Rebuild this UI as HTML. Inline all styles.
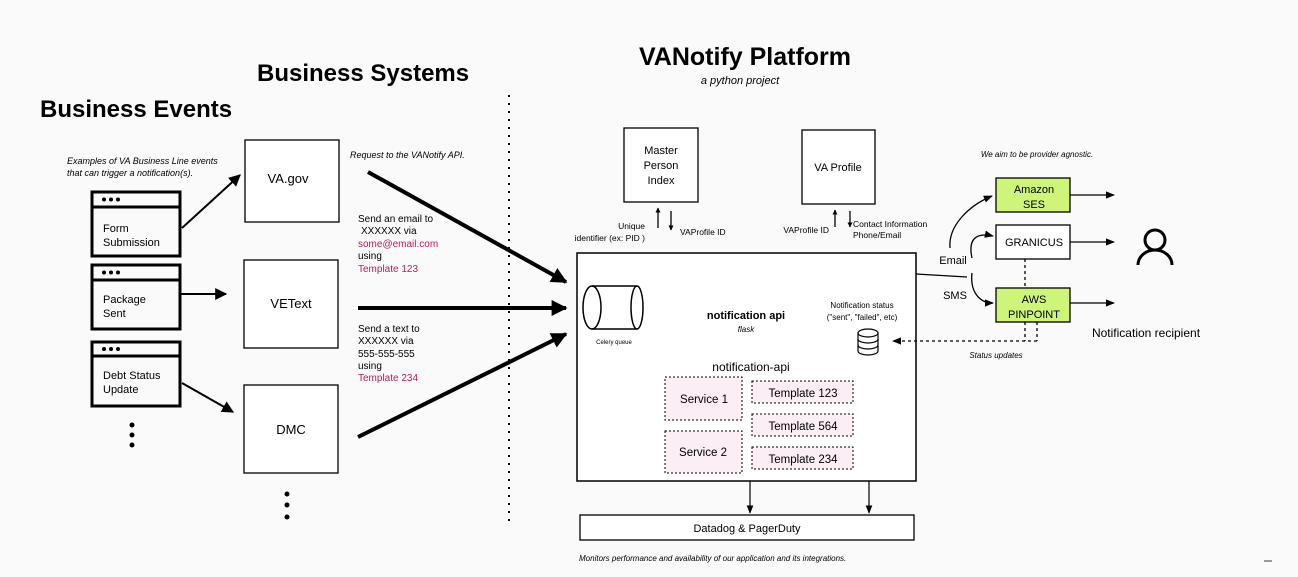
<!DOCTYPE html>
<html><head><meta charset="utf-8"><style>
html,body{margin:0;padding:0;background:#fafafa;}
svg{display:block;font-family:"Liberation Sans",sans-serif;}
</style></head><body>
<svg width="1298" height="577" viewBox="0 0 1298 577" xmlns="http://www.w3.org/2000/svg">
<defs>
<marker id="a" viewBox="0 0 10 10" refX="9" refY="5" markerWidth="6" markerHeight="6" orient="auto"><path d="M0,0L10,5L0,10z" fill="#000"/></marker>
<marker id="b" viewBox="0 0 10 10" refX="9" refY="5" markerWidth="4" markerHeight="4" orient="auto"><path d="M0,0L10,5L0,10z" fill="#000"/></marker>
<marker id="c" viewBox="0 0 10 10" refX="9" refY="5" markerWidth="7" markerHeight="7" orient="auto"><path d="M0,1L10,5L0,9z" fill="#000"/></marker>
</defs>
<rect width="1298" height="577" fill="#fafafa"/>
<text x="40" y="117" font-size="24" font-weight="bold">Business Events</text>
<text x="257" y="81" font-size="24" font-weight="bold">Business Systems</text>
<text x="745" y="65" font-size="25" font-weight="bold" text-anchor="middle">VANotify Platform</text>
<text x="740" y="84" font-size="11" font-style="italic" text-anchor="middle">a python project</text>
<line x1="509" y1="95" x2="509" y2="522" stroke="#000" stroke-width="2" stroke-dasharray="2,6"/>
<text font-size="9" font-style="italic"><tspan x="67" y="164">Examples of VA Business Line events</tspan><tspan x="67" y="176">that can trigger a notification(s).</tspan></text>
<g stroke="#000" stroke-width="3" fill="none">
<rect x="92" y="192" width="88" height="64"/><line x1="92" y1="207" x2="180" y2="207"/>
<rect x="92" y="265" width="88" height="64"/><line x1="92" y1="280" x2="180" y2="280"/>
<rect x="92" y="342" width="88" height="64"/><line x1="92" y1="356" x2="180" y2="356"/>
</g>
<g fill="#000"><circle cx="104" cy="199.5" r="2"/><circle cx="111" cy="199.5" r="2"/><circle cx="118" cy="199.5" r="2"/>
<circle cx="104" cy="272.5" r="2"/><circle cx="111" cy="272.5" r="2"/><circle cx="118" cy="272.5" r="2"/>
<circle cx="104" cy="349" r="2"/><circle cx="111" cy="349" r="2"/><circle cx="118" cy="349" r="2"/>
<circle cx="132" cy="425" r="2.5"/><circle cx="132" cy="435" r="2.5"/><circle cx="132" cy="445" r="2.5"/>
<circle cx="287" cy="494" r="2.5"/><circle cx="287" cy="505" r="2.5"/><circle cx="287" cy="517" r="2.5"/></g>
<g font-size="11"><text x="103" y="232">Form</text><text x="103" y="246">Submission</text>
<text x="103" y="303">Package</text><text x="103" y="317">Sent</text>
<text x="103" y="379">Debt Status</text><text x="103" y="393">Update</text></g>
<g stroke="#000" stroke-width="1.3" fill="#fff">
<rect x="245" y="140" width="94" height="82"/><rect x="244" y="260" width="94" height="88"/><rect x="244" y="385" width="94" height="88"/></g>
<g font-size="13" text-anchor="middle"><text x="288" y="183">VA.gov</text><text x="291" y="308">VEText</text><text x="291" y="434">DMC</text></g>
<g stroke="#000" stroke-width="2" marker-end="url(#a)"><line x1="182" y1="228" x2="240" y2="175"/><line x1="180" y1="294" x2="226" y2="294"/><line x1="182" y1="383" x2="233" y2="412"/></g>
<g stroke="#000" stroke-width="4" marker-end="url(#b)"><line x1="368" y1="172" x2="566" y2="282"/><line x1="358" y1="308" x2="566" y2="308"/><line x1="358" y1="437" x2="566" y2="334"/></g>
<text x="350" y="158" font-size="9" font-style="italic">Request to the VANotify API.</text>
<g font-size="10"><text x="358" y="222">Send an email to</text><text x="361" y="234">XXXXXX via</text><text x="358" y="247" fill="#c2185b">some@email.com</text><text x="358" y="259">using</text><text x="358" y="272" fill="#c2185b">Template 123</text>
<text x="358" y="332">Send a text to</text><text x="358" y="344">XXXXXX via</text><text x="358" y="357">555-555-555</text><text x="358" y="369">using</text><text x="358" y="381" fill="#c2185b">Template 234</text></g>
<g stroke="#000" stroke-width="1.3" fill="#fff"><rect x="624" y="128" width="74" height="74"/><rect x="802" y="130" width="73" height="74"/></g>
<g font-size="11" text-anchor="middle"><text x="661" y="154">Master</text><text x="661" y="169">Person</text><text x="661" y="184">Index</text><text x="838" y="171">VA Profile</text></g>
<g stroke="#000" stroke-width="1.3" marker-end="url(#b)"><line x1="658" y1="228" x2="658" y2="208"/><line x1="671" y1="211" x2="671" y2="230"/><line x1="835" y1="227" x2="835" y2="210"/><line x1="850" y1="211" x2="850" y2="227"/></g>
<g font-size="8.5"><text x="645" y="229" text-anchor="end">Unique</text><text x="645" y="241" text-anchor="end">identifier (ex: PID )</text><text x="680" y="235">VAProfile ID</text><text x="829" y="233" text-anchor="end">VAProfile ID</text><text x="853" y="227">Contact Information</text><text x="853" y="238">Phone/Email</text></g>
<rect x="577" y="253" width="339" height="228" fill="#fff" stroke="#000" stroke-width="1.5"/>
<g stroke="#000" stroke-width="1.5" fill="none"><path d="M592,286 H637 M592,329 H637"/><ellipse cx="592" cy="307.5" rx="9" ry="21.5"/><ellipse cx="637" cy="307.5" rx="6" ry="21.5"/></g>
<text x="614" y="344" font-size="6" text-anchor="middle">Celery queue</text>
<text x="746" y="319" font-size="11" font-weight="bold" text-anchor="middle">notification api</text>
<text x="746" y="332" font-size="8" font-style="italic" text-anchor="middle">flask</text>
<g font-size="8" text-anchor="middle"><text x="862" y="308">Notification status</text><text x="862" y="320">("sent", "failed", etc)</text></g>
<g stroke="#000" stroke-width="1.2" fill="#fff"><path d="M858,333 v18 a10,4 0 0 0 20,0 v-18"/><ellipse cx="868" cy="333" rx="10" ry="4"/><path d="M858,339 a10,4 0 0 0 20,0 M858,345 a10,4 0 0 0 20,0" fill="none"/></g>
<text x="751" y="371" font-size="12" text-anchor="middle">notification-api</text>
<g fill="#fbeef5" stroke="#000" stroke-width="1" stroke-dasharray="2,2"><rect x="665" y="377" width="77" height="43"/><rect x="665" y="431" width="77" height="42"/><rect x="752" y="381" width="101" height="22"/><rect x="752" y="414" width="101" height="22"/><rect x="752" y="447" width="101" height="22"/></g>
<g font-size="11.5" text-anchor="middle"><text x="704" y="403">Service 1</text><text x="703" y="456">Service 2</text><text x="803" y="397">Template 123</text><text x="803" y="430">Template 564</text><text x="803" y="463">Template 234</text></g>
<g stroke="#000" stroke-width="1.2" marker-end="url(#c)"><line x1="750" y1="481" x2="750" y2="513"/><line x1="869" y1="481" x2="869" y2="513"/></g>
<rect x="580" y="515" width="334" height="25" fill="#fff" stroke="#000" stroke-width="1.3"/>
<text x="747" y="532" font-size="11" text-anchor="middle">Datadog &amp; PagerDuty</text>
<text x="579" y="561" font-size="8" font-style="italic">Monitors performance and availability of our application and its integrations.</text>
<text x="1037" y="157" font-size="8" font-style="italic" text-anchor="middle">We aim to be provider agnostic.</text>
<g stroke="#000" stroke-width="1.3" fill="none">
<line x1="916" y1="274" x2="967" y2="277"/>
<path d="M950,248 C948,225 970,205 992,196" marker-end="url(#c)"/>
<path d="M972,258 C968,240 975,232 993,236" marker-end="url(#c)"/>
<path d="M972,273 C970,290 978,303 993,303" marker-end="url(#c)"/>
<line x1="1070" y1="195" x2="1114" y2="195" marker-end="url(#c)"/><line x1="1070" y1="242" x2="1114" y2="242" marker-end="url(#c)"/><line x1="1070" y1="303" x2="1114" y2="303" marker-end="url(#c)"/>
<g stroke-dasharray="3,3"><line x1="1025" y1="259" x2="1025" y2="287"/><line x1="1025" y1="322" x2="1025" y2="341"/><line x1="1037" y1="322" x2="1037" y2="341"/><line x1="1037" y1="341" x2="893" y2="341" marker-end="url(#c)"/></g>
</g>
<rect x="996" y="178" width="74" height="34" fill="#cef57a" stroke="#000" stroke-width="1.3"/>
<rect x="996" y="225" width="74" height="34" fill="#fff" stroke="#000" stroke-width="1.3"/>
<rect x="996" y="288" width="74" height="34" fill="#cef57a" stroke="#000" stroke-width="1.3"/>
<g font-size="11" text-anchor="middle"><text x="1034" y="193">Amazon</text><text x="1034" y="208">SES</text><text x="1034" y="246">GRANICUS</text><text x="1034" y="303">AWS</text><text x="1034" y="318">PINPOINT</text></g>
<text x="953" y="264" font-size="11" text-anchor="middle">Email</text>
<text x="955" y="299" font-size="11" text-anchor="middle">SMS</text>
<text x="996" y="358" font-size="8" font-style="italic" text-anchor="middle">Status updates</text>
<g stroke="#000" stroke-width="3" fill="none"><circle cx="1155" cy="240" r="10"/><path d="M1138,265 a17,15 0 0 1 34,0"/></g>
<text x="1146" y="337" font-size="12" text-anchor="middle">Notification recipient</text>
<rect x="1264" y="560" width="8" height="2" fill="#999"/>
</svg>
</body></html>
